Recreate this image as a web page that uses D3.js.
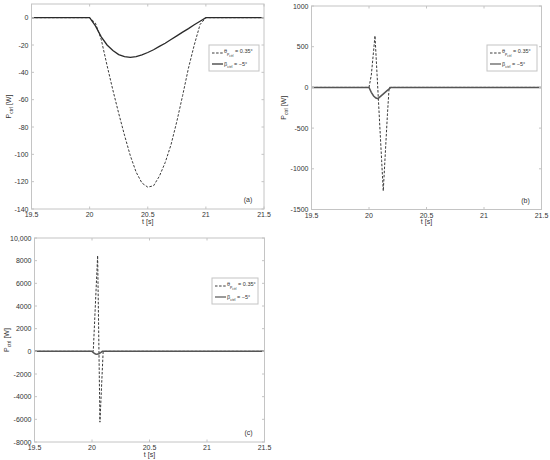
<!DOCTYPE html>
<html>
<head>
<meta charset="utf-8">
<script src="https://cdn.jsdelivr.net/npm/d3@7/dist/d3.min.js"></script>
<style>
body { margin: 0; background: #fff; }
svg { display: block; }
text { font-family: "Liberation Sans", Arial, sans-serif; fill: #333; }
</style>
</head>
<body>
<svg id="fig" width="550" height="460"></svg>
<script>
// shared axis values
const xTicks = [19.5, 20, 20.5, 21, 21.5];
const xTickLabels = ["19.5", "20", "20.5", "21", "21.5"];

// (a)
const tA = [19.5, 20.0, 20.05, 20.1, 20.15, 20.2, 20.25, 20.3, 20.35, 20.4, 20.45, 20.5,
            20.55, 20.6, 20.65, 20.7, 20.75, 20.8, 20.85, 20.9, 20.95, 21.0, 21.5];
const dashA = [0, 0, -4, -16, -35, -53, -70, -86, -101, -113, -121, -124,
               -123, -116, -106, -93, -76, -57, -37, -20, -5, 0, 0];
const solidA = [0, 0, -6, -14, -20, -24, -27, -28.5, -29, -28.5, -27.2, -25.5,
                -23.5, -21, -18.7, -16, -13.3, -10.6, -8, -5.2, -2.6, 0, 0];
const yTicksA = [-140, -120, -100, -80, -60, -40, -20, 0];
const yLabelsA = ["-140", "-120", "-100", "-80", "-60", "-40", "-20", "0"];

// (b)
const tDashB = [19.5, 20.0, 20.02, 20.04, 20.052, 20.07, 20.09, 20.11, 20.124, 20.14, 20.16, 20.175, 21.5];
const dashB = [0, 0, 150, 450, 635, 160, -370, -900, -1273, -857, -338, 0, 0];
const tSolidB = [19.5, 20.0, 20.02, 20.04, 20.06, 20.078, 20.1, 20.13, 20.16, 20.19, 21.5];
const solidB = [0, 0, -60, -105, -130, -138, -111, -74, -37, 0, 0];
const yTicksB = [-1500, -1000, -500, 0, 500, 1000];
const yLabelsB = ["-1500", "-1000", "-500", "0", "500", "1000"];

// (c)
const tDashC = [19.5, 20.0, 20.011, 20.049, 20.069, 20.097, 21.5];
const dashC = [0, 0, 0, 8450, -6250, 0, 0];
const tSolidC = [19.5, 20.0, 20.015, 20.03, 20.043, 20.06, 20.075, 20.09, 21.5];
const solidC = [0, 0, -130, -230, -265, -210, -110, 0, 0];
const yTicksC = [-8000, -6000, -4000, -2000, 0, 2000, 4000, 6000, 8000, 10000];
const yLabelsC = ["-8000", "-6000", "-4000", "-2000", "0", "2000", "4000", "6000", "8000", "10,000"];

const svg = d3.select("#fig");

function drawPanel(p) {
    const g = svg.append("g").attr("transform", `translate(${p.left},${p.top})`);
    const x = d3.scaleLinear().domain([19.5, 21.5]).range([0, p.width]);
    const y = d3.scaleLinear().domain(p.yDomain).range([p.height, 0]);

    const series = [
        { t: p.tDash, v: p.dash, dashed: true },
        { t: p.tSolid, v: p.solid, dashed: false }
    ];
    const line = d3.line().x(d => x(d[0])).y(d => y(d[1]));

    series.forEach(s => {
        g.append("path")
            .datum(s.t.map((t, i) => [t, s.v[i]]))
            .attr("fill", "none")
            .attr("stroke", s.dashed ? "#3a3a3a" : p.solidColor)
            .attr("stroke-width", s.dashed ? 1 : p.solidWidth)
            .attr("stroke-dasharray", s.dashed ? "2.5,1.6" : null)
            .attr("d", line);
    });

    // box
    g.append("rect")
        .attr("width", p.width).attr("height", p.height)
        .attr("fill", "none").attr("stroke", "#c4c4c4").attr("stroke-width", 1);

    // inward ticks on all sides
    const tk = 2.5;
    xTicks.forEach(v => {
        g.append("line").attr("x1", x(v)).attr("x2", x(v)).attr("y1", p.height).attr("y2", p.height - tk)
            .attr("stroke", "#c4c4c4");
        g.append("line").attr("x1", x(v)).attr("x2", x(v)).attr("y1", 0).attr("y2", tk)
            .attr("stroke", "#c4c4c4");
    });
    p.yTicks.forEach(v => {
        g.append("line").attr("x1", 0).attr("x2", tk).attr("y1", y(v)).attr("y2", y(v))
            .attr("stroke", "#c4c4c4");
        g.append("line").attr("x1", p.width).attr("x2", p.width - tk).attr("y1", y(v)).attr("y2", y(v))
            .attr("stroke", "#c4c4c4");
    });

    g.selectAll(".xt").data(xTicks).enter().append("text")
        .attr("x", d => x(d)).attr("y", p.height + 8)
        .attr("text-anchor", "middle").attr("font-size", 7)
        .text((d, i) => xTickLabels[i]);

    g.selectAll(".yt").data(p.yTicks).enter().append("text")
        .attr("x", -3).attr("y", d => y(d) + 2.5)
        .attr("text-anchor", "end").attr("font-size", 7)
        .text((d, i) => p.yLabels[i]);

    // x label
    g.append("text")
        .attr("x", x(20.5)).attr("y", p.height + 14.5)
        .attr("text-anchor", "middle").attr("font-size", 7)
        .text("t [s]");

    // y label
    const yl = g.append("text")
        .attr("transform", `translate(${p.yLabelX},${p.height / 2}) rotate(-90)`)
        .attr("text-anchor", "middle").attr("font-size", 7);
    yl.append("tspan").text("P");
    yl.append("tspan").attr("font-size", 5).attr("dy", 2).text("ctrl");
    yl.append("tspan").attr("dy", -2).text(" [W]");

    // panel tag
    g.append("text")
        .attr("x", p.width - 16).attr("y", p.height - 7)
        .attr("text-anchor", "middle").attr("font-size", 7)
        .text(p.tag);

    // legend
    const lg = g.append("g").attr("transform", `translate(${p.legX},${p.legY})`);
    lg.append("rect").attr("width", p.legW).attr("height", 26)
        .attr("fill", "#fff").attr("stroke", "#c4c4c4");
    lg.append("line").attr("x1", 3).attr("x2", 14).attr("y1", 8).attr("y2", 8)
        .attr("stroke", "#3a3a3a").attr("stroke-dasharray", "2.5,1.6");
    lg.append("line").attr("x1", 3).attr("x2", 14).attr("y1", 19).attr("y2", 19)
        .attr("stroke", p.solidColor).attr("stroke-width", 1.2);
    const t1 = lg.append("text").attr("x", 15).attr("y", 8).attr("font-size", 5.5);
    t1.append("tspan").text("θ");
    t1.append("tspan").attr("font-size", 4).attr("dy", 1.5).text("p");
    t1.append("tspan").attr("font-size", 3.2).attr("dy", 2.5).text("ctrl");
    t1.append("tspan").attr("font-size", 5.5).attr("dy", -4).text(" = 0.35°");
    const t2 = lg.append("text").attr("x", 15).attr("y", 21).attr("font-size", 5.5);
    t2.append("tspan").text("β");
    t2.append("tspan").attr("font-size", 4).attr("dy", 1.5).text("ctrl");
    t2.append("tspan").attr("font-size", 5.5).attr("dy", -1.5).text(" = −5°");
}

drawPanel({
    left: 31.5, top: 4, width: 232.5, height: 205,
    yDomain: [-140, 10], yTicks: yTicksA, yLabels: yLabelsA,
    tDash: tA, dash: dashA, tSolid: tA, solid: solidA,
    solidColor: "#2a2a2a", solidWidth: 1.3,
    tag: "(a)", yLabelX: -21, legX: 177.5, legY: 41, legW: 50
});

drawPanel({
    left: 311.5, top: 6, width: 230, height: 203.5,
    yDomain: [-1500, 1000], yTicks: yTicksB, yLabels: yLabelsB,
    tDash: tDashB, dash: dashB, tSolid: tSolidB, solid: solidB,
    solidColor: "#555", solidWidth: 1.5,
    tag: "(b)", yLabelX: -26, legX: 175.5, legY: 39, legW: 50
});

drawPanel({
    left: 34.5, top: 238, width: 230, height: 204,
    yDomain: [-8000, 10000], yTicks: yTicksC, yLabels: yLabelsC,
    tDash: tDashC, dash: dashC, tSolid: tSolidC, solid: solidC,
    solidColor: "#555", solidWidth: 1.5,
    tag: "(c)", yLabelX: -26, legX: 177.5, legY: 40, legW: 46
});
</script>
</body>
</html>
